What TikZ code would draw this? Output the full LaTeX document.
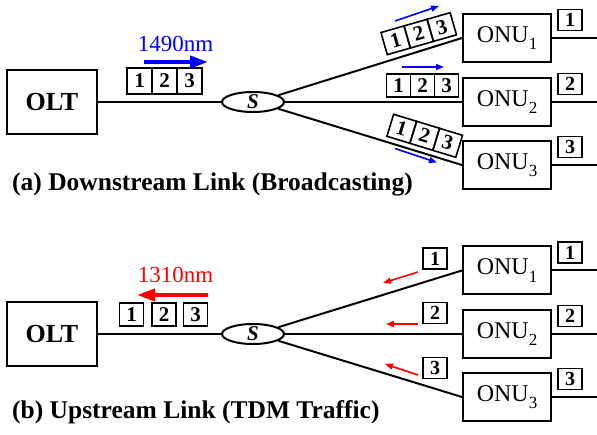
\documentclass[tikz,border=0pt]{standalone}
\usepackage{fontspec}
\setmainfont{Liberation Serif}
\usetikzlibrary{arrows.meta,shapes.geometric,calc}
\newcommand\onusub[1]{\raisebox{-0.3em}{\fontsize{17}{17}\selectfont #1}}
\begin{document}
\begin{tikzpicture}[x=1pt,y=1pt,
 box/.style={draw, line width=2pt, minimum width=88pt, minimum height=48pt, inner sep=0pt},
 oltbox/.style={box, minimum width=90pt, minimum height=64pt, font=\fontsize{26}{26}\selectfont\bfseries},
 onubox/.style={box, font=\fontsize{24}{24}\selectfont},
 splitter/.style={draw, ellipse, line width=2pt, minimum width=62pt, minimum height=20pt, inner sep=0pt, font=\fontsize{21}{21}\selectfont\bfseries\itshape},
 cell/.style={draw, line width=1.6pt, minimum width=25pt, minimum height=26pt, inner sep=0pt, font=\fontsize{21}{21}\selectfont\bfseries},
 scell/.style={cell, minimum width=24pt, minimum height=23pt},
 tag/.style={draw, line width=1.6pt, minimum width=24pt, minimum height=21pt, inner sep=0pt, font=\fontsize{20}{20}\selectfont\bfseries},
 pkt/.style={tag, minimum height=23pt, font=\fontsize{21}{21}\selectfont\bfseries},
 fiber/.style={line width=2pt},
 bigarrow/.style={line width=4pt, -{Triangle[length=18pt,width=12pt]}},
 smallarrow/.style={line width=1.6pt, -{Triangle[length=8pt,width=6pt]}},
 wl/.style={font=\fontsize{23}{23}\selectfont, anchor=base, inner sep=0pt},
 caption/.style={font=\fontsize{25.5}{25.5}\selectfont\bfseries, anchor=base west, inner sep=0pt},
]
\useasboundingbox (0,0) rectangle (597,434);
\coordinate (edge) at (597,0);

% ---------------- (a) Downstream ----------------
\node[oltbox] (olta) at (52,332) {OLT};
\node[splitter] (sa) at (253,332) {S};
\node[onubox] (onua1) at (507,396) {ONU\onusub{1}};
\node[onubox] (onua2) at (507,332) {ONU\onusub{2}};
\node[onubox] (onua3) at (507,269) {ONU\onusub{3}};
\draw[fiber] (olta.east) -- (sa.west);
\draw[fiber] (sa.15) -- (onua1.west);
\draw[fiber] (sa.east) -- (onua2.west);
\draw[fiber] (sa.-15) -- (onua3.west);
\draw[fiber] (onua1.east) -- (onua1.east -| edge);
\draw[fiber] (onua2.east) -- (onua2.east -| edge);
\draw[fiber] (onua3.east) -- (onua3.east -| edge);
\node[tag] (ta1) at (570,414) {1};
\node[tag] (ta2) at (570,350) {2};
\node[tag] (ta3) at (570,287) {3};

% packet at OLT side
\node[cell] (pa1) at (139.5,353) {1};
\node[cell] (pa2) at (164.5,353) {2};
\node[cell] (pa3) at (189.5,353) {3};
\coordinate (ba0) at (144,372);
\coordinate (ba1) at (208,372);
\draw[bigarrow, blue] (ba0) -- (ba1);
\node[wl, text=blue] (wla) at (175.5,382) {1490nm};

% packet on ONU2 branch
\node[scell] (qa1) at (398.5,348.5) {1};
\node[scell] (qa2) at (422.5,348.5) {2};
\node[scell] (qa3) at (446.5,348.5) {3};
\coordinate (bb0) at (402,367);
\coordinate (bb1) at (444,367);
\draw[smallarrow, blue] (bb0) -- (bb1);

% packet on ONU1 branch
\begin{scope}[shift={($(sa.15)!0.79!(onua1.west)$)}, rotate=16, transform shape]
\node[scell] (ra1) at (-24,17) {1};
\node[scell] (ra2) at (0,17) {2};
\node[scell] (ra3) at (24,17) {3};
\end{scope}
\coordinate (bc0) at (395,413);
\coordinate (bc1) at (439,428);
\draw[smallarrow, blue] (bc0) -- (bc1);

% packet on ONU3 branch
\begin{scope}[shift={($(sa.-15)!0.77!(onua3.west)$)}, rotate=-17, transform shape]
\node[scell] (sa1) at (-24,17) {1};
\node[scell] (sa2) at (0,17) {2};
\node[scell] (sa3) at (24,17) {3};
\end{scope}
\coordinate (bd0) at (395,285.5);
\coordinate (bd1) at (437,271.5);
\draw[smallarrow, blue] (bd0) -- (bd1);

\node[caption] (capa) at (12,243) {(a) Downstream Link (Broadcasting)};

% ---------------- (b) Upstream ----------------
\node[oltbox] (oltb) at (52,100) {OLT};
\node[splitter] (sb) at (253,100) {S};
\node[onubox] (onub1) at (507,163.5) {ONU\onusub{1}};
\node[onubox] (onub2) at (507,100) {ONU\onusub{2}};
\node[onubox] (onub3) at (507,37) {ONU\onusub{3}};
\draw[fiber] (oltb.east) -- (sb.west);
\draw[fiber] (sb.15) -- (onub1.west);
\draw[fiber] (sb.east) -- (onub2.west);
\draw[fiber] (sb.-15) -- (onub3.west);
\draw[fiber] (onub1.east) -- (onub1.east -| edge);
\draw[fiber] (onub2.east) -- (onub2.east -| edge);
\draw[fiber] (onub3.east) -- (onub3.east -| edge);
\node[tag] (tb1) at (570,181.5) {1};
\node[tag] (tb2) at (570,118) {2};
\node[tag] (tb3) at (570,55) {3};

\node[tag] (lb1) at (435,175.5) {1};
\node[tag] (lb2) at (435,121) {2};
\node[tag] (lb3) at (435,66) {3};

\node[pkt] (pb1) at (131.5,119.5) {1};
\node[pkt] (pb2) at (164,119.5) {2};
\node[pkt] (pb3) at (195.5,119.5) {3};
\coordinate (ra0) at (208,139);
\coordinate (ra1x) at (137,139);
\draw[bigarrow, red] (ra0) -- (ra1x);
\node[wl, text=red] (wlb) at (175.5,151) {1310nm};

\coordinate (rb0) at (418,162);
\coordinate (rb1) at (383,151);
\draw[smallarrow, red] (rb0) -- (rb1);
\coordinate (rc0) at (418,110);
\coordinate (rc1) at (386,110);
\draw[smallarrow, red] (rc0) -- (rc1);
\coordinate (rd0) at (418,59);
\coordinate (rd1) at (385,70);
\draw[smallarrow, red] (rd0) -- (rd1);

\node[caption] (capb) at (12,16) {(b) Upstream Link (TDM Traffic)};
\end{tikzpicture}
\end{document}
